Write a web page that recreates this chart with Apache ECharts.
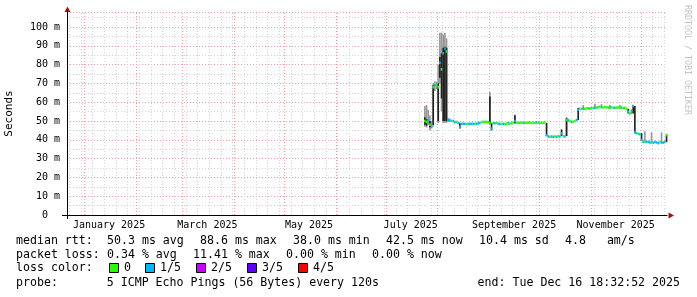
<!DOCTYPE html>
<html><head><meta charset="utf-8">
<script src="https://cdn.jsdelivr.net/npm/echarts@6/dist/echarts.min.js"></script>
<style>html,body{margin:0;padding:0;background:#fff}#c{width:697px;height:297px}</style>
</head><body><div id="c"></div>
<script>
// ---------------- data ----------------
const firstDay = '2025-07-24';            // one value per day from this date
const medianRtt = [
  50, 49.5, 50.5, 48, 47,
  68, 69, 69.5, 68, 81, 77.5, 86, 88.6, 87,
  50.5, 50.5, 50, 50, 49.5, 49.5, 49, 47, 48.5,
  48.5, 48.5, 48.3, 48.5, 48.4, 48.5, 48.5, 48.6, 48.5, 48.8, 49,
  49.5, 49.5, 49.6, 49.5, 49.4,
  49, 46,
  48.8, 48.8, 49, 48.6, 48.4, 48.4, 48.5, 48.4, 48.6, 48.8, 48.6, 48.8,
  49, 50, 49,
  49.1, 49, 49.2, 49, 49.1, 49, 49.2, 49.1, 49, 49.1, 49, 49.2, 49.1, 49, 49.1, 49, 49.2,
  42.5, 41.8, 41.5, 41.8, 41.6, 41.8, 41.6, 41.9, 41.7, 43.5, 42, 41.8,
  50.5, 50.5, 50, 49.5, 49.5, 50, 50.5,
  56,
  56.5, 56.5, 56.6, 56.5, 56.7, 56.8, 56.7, 56.9, 57, 57.1, 57.2,
  57.4, 57.6, 57.4, 57.2, 57.4, 57.3, 57.1, 57.2, 57.3, 57.1, 57, 57.1, 57.3, 57, 57.1, 56.9, 57,
  56.5, 55, 54, 55, 58, 44, 43.5, 43.2, 43,
  40,
  39, 39.2, 38.8, 39, 38.6, 38.8, 38.5, 38.8, 38.6, 38.2, 38.8, 38.6, 38.5, 38.8,
  42.5
];
// lost pings out of 5 (colour index of the median)
const lossFifths = [
  0,0,1,0,1,0,1,0,0,1,0,1,1,0,
  1,1,0,1,1,0,1,1,1,
  1,1,0,1,1,1,1,0,1,1,1,
  0,0,0,0,0,
  0,1,
  0,1,0,1,1,0,1,0,0,1,0,0,
  0,1,0,0,0,0,1,0,0,0,0,0,0,0,1,0,0,0,0,0,
  1,1,0,1,1,0,1,0,1,1,0,1,
  0,1,0,1,0,0,1,
  1,0,0,1,0,0,0,1,0,0,1,0,0,0,1,0,0,0,0,1,0,0,1,0,0,0,1,0,0,
  0,1,0,0,1,1,1,0,1,
  1,1,0,1,1,1,0,1,1,1,1,0,1,1,1,0
];
// dense smoke: [day, low, high] (ms)
const darkSmoke = [
  ['2025-07-24',48,52],['2025-07-25',47.5,51],['2025-07-27',46.5,50],
  ['2025-07-29',48,69],['2025-08-01',50,70],['2025-08-02',73,84],['2025-08-03',62,86],
  ['2025-08-04',50,89],['2025-08-05',50,89.5],['2025-08-06',50,89],
  ['2025-08-14',46,49],['2025-09-01',49,63],['2025-09-02',45,49],['2025-09-16',49,53],
  ['2025-10-05',42,49],['2025-10-14',42,45.5],['2025-10-17',42,51.5],['2025-10-24',50.5,57],
  ['2025-11-23',54,56.5],['2025-11-25',54,56],['2025-11-26',54,58.5],['2025-11-27',43.5,58],
  ['2025-12-01',39.5,43.5],['2025-12-16',38.8,43]
];
// light smoke: [day, low, high] (ms)
const lightSmoke = [
  ['2025-07-24',47,58],['2025-07-25',46.5,58.5],['2025-07-26',48,56],['2025-07-27',45,53],['2025-07-28',46,50],
  ['2025-07-29',47,70],['2025-07-30',66,71],['2025-07-31',67,71],
  ['2025-08-01',49,80],['2025-08-02',70,97],['2025-08-03',55,97],['2025-08-04',49,96],['2025-08-05',49,97],['2025-08-06',49,94],
  ['2025-08-07',49.5,51.5],['2025-08-08',49.5,51],
  ['2025-09-01',48,65.5],['2025-09-16',48.5,53.5],['2025-10-17',42,52],
  ['2025-10-27',56,58.5],['2025-11-03',56.5,59],['2025-11-07',57,59],['2025-11-12',56.5,58.5],['2025-11-18',56.5,58.5],
  ['2025-12-03',38.5,44.5],['2025-12-07',38,44],['2025-12-13',38,44]
];
const yTickValues = [0,10,20,30,40,50,60,70,80,90,100];
const yTickTexts = ['0  ','10 m','20 m','30 m','40 m','50 m','60 m','70 m','80 m','90 m','100 m'];
const monthLabels = [
  ['2025-01-16','January 2025'],['2025-03-16','March 2025'],['2025-05-16','May 2025'],
  ['2025-07-16','July 2025'],['2025-09-16','September 2025'],['2025-11-16','November 2025']
];
const monthStarts = ['2025-01-01','2025-02-01','2025-03-01','2025-04-01','2025-05-01','2025-06-01',
  '2025-07-01','2025-08-01','2025-09-01','2025-10-01','2025-11-01','2025-12-01'];
const lossColors = ['#26ff00','#00b8ff','#c800ff','#5e00ff','#ff0000'];
const lossNames = ['0','1/5','2/5','3/5','4/5'];
const rttHead = 'median rtt:';
const rttItems = ['50.3 ms avg', '88.6 ms max', '38.0 ms min', '42.5 ms now', '10.4 ms sd', '4.8   am/s'];
const lossHead = 'packet loss:';
const lossItems = ['0.34 % avg', '11.41 % max', '0.00 % min', '0.00 % now'];
const probeLine = 'probe:       5 ICMP Echo Pings (56 Bytes) every 120s';
const endLine = 'end: Tue Dec 16 18:32:52 2025';

// ---------------- build ----------------
const DAY = 86400000;
const toT = s => Date.parse(s + 'T00:00:00Z');
const t0 = toT(firstDay);
const X_MIN = Date.UTC(2024, 11, 21, 18, 32), X_MAX = Date.UTC(2025, 11, 16, 18, 32);
const Y_MAX = 108;
const medData = medianRtt.map((v, i) => [t0 + i * DAY, v, lossFifths[i]]);
const darkData = darkSmoke.map(d => [toT(d[0]), d[1], d[2]]);
const lightData = lightSmoke.map(d => [toT(d[0]), d[1], d[2]]);
const monthLineData = monthStarts.map(s => [toT(s), 0]);
const weekLineData = [];
for (let t = Date.UTC(2024, 11, 23); t < X_MAX; t += 7 * DAY) {
  const d = new Date(t);
  if (d.getUTCDate() !== 1) weekLineData.push([t, 0]);
}
const labelTimes = monthLabels.map(m => toT(m[0]));
const MONO = 'DejaVu Sans Mono';
const FONT = '11.6px "' + MONO + '"';
const CW = 7.0, GAP = 16;

function bandRender(color) {
  return function (params, api) {
    const t = api.value(0);
    const p1 = api.coord([t, api.value(2)]);
    const p2 = api.coord([t + DAY, api.value(1)]);
    return {type: 'rect', shape: {x: p1[0], y: p1[1], width: Math.max(p2[0] - p1[0], 1), height: Math.max(p2[1] - p1[1], 1)},
      style: {fill: color}};
  };
}
function vlineRender(color) {
  return function (params, api) {
    const t = api.value(0);
    const a = api.coord([t, 0]), b = api.coord([t, Y_MAX]);
    const x = Math.round(a[0]) + 0.5;
    return {type: 'line', shape: {x1: x, y1: a[1], x2: x, y2: b[1]},
      style: {stroke: color, lineWidth: 1, lineDash: [1, 2]}};
  };
}
function txt(x, y, s, align) {
  return {type: 'text', x: x, y: y, style: {text: s, font: FONT, fill: '#000', verticalAlign: 'middle', align: align || 'left'}};
}

const chart = echarts.init(document.getElementById('c'), null, {renderer: 'canvas'});
const graphics = [
  {type: 'line', shape: {x1: 62, y1: 215.5, x2: 67, y2: 215.5}, style: {stroke: '#000', lineWidth: 1}},
  {type: 'line', shape: {x1: 67.5, y1: 215, x2: 67.5, y2: 219}, style: {stroke: '#000', lineWidth: 1}},
  {type: 'polygon', shape: {points: [[67.5, 6.5], [64.5, 12], [70.5, 12]]}, style: {fill: '#a01010'}},
  {type: 'polygon', shape: {points: [[674, 215.5], [668.5, 212.5], [668.5, 218.5]]}, style: {fill: '#a01010'}},
  txt(16, 241, rttHead), txt(16, 255, lossHead), txt(16, 268, 'loss color:'),
  txt(16, 283, probeLine), txt(680, 283, endLine, 'right'),
  {type: 'text', x: 687, y: 5, rotation: -Math.PI / 2,
    style: {text: 'RRDTOOL / TOBI OETIKER', font: '8.3px "' + MONO + '"', fill: '#c4c4c4', verticalAlign: 'middle', align: 'left'}}
];
let px = 107;
rttItems.forEach(s => { graphics.push(txt(px, 241, s)); px += s.length * CW + GAP; });
px = 107;
lossItems.forEach(s => { graphics.push(txt(px, 255, s)); px += s.length * CW + GAP; });
const sqX = [109, 145, 196, 247, 298];
lossNames.forEach((n, i) => {
  graphics.push({type: 'rect', shape: {x: sqX[i] + 0.5, y: 263.5, width: 9, height: 9},
    style: {fill: lossColors[i], stroke: '#000', lineWidth: 1}});
  graphics.push(txt(sqX[i] + 15, 268, n));
});

chart.setOption({
  animation: false,
  backgroundColor: '#fff',
  grid: {left: 67, right: 30, top: 12, bottom: 82, containLabel: false, outerBoundsMode: 'none'},
  xAxis: {
    type: 'value', min: X_MIN, max: X_MAX, scale: true,
    axisLine: {show: true, onZero: false, lineStyle: {color: '#000', width: 1}},
    axisTick: {show: false},
    splitLine: {show: false},
    axisLabel: {
      customValues: labelTimes, hideOverlap: false,
      fontFamily: MONO, fontSize: 10, color: '#000', margin: 5,
      formatter: function (v) {
        let best = 0, bd = Infinity;
        labelTimes.forEach((t, i) => { const d = Math.abs(t - v); if (d < bd) { bd = d; best = i; } });
        return monthLabels[best][1];
      }
    }
  },
  yAxis: {
    type: 'value', min: 0, max: Y_MAX, interval: 10,
    name: 'Seconds', nameLocation: 'middle', nameGap: 52, nameRotate: 90,
    nameTextStyle: {fontFamily: MONO, fontSize: 11, color: '#000'},
    axisLine: {show: true, lineStyle: {color: '#000', width: 1}},
    axisTick: {show: false},
    axisLabel: {
      fontFamily: MONO, fontSize: 10, color: '#000', margin: 7, showMaxLabel: false,
      formatter: v => { const k = yTickValues.indexOf(v); return k < 0 ? '' : yTickTexts[k]; }
    },
    splitLine: {show: true, lineStyle: {color: '#eea0a0', width: 1, type: [1, 2]}},
    minorTick: {show: false, splitNumber: 2},
    minorSplitLine: {show: true, lineStyle: {color: '#d4d4d4', width: 1, type: [1, 2]}}
  },
  graphic: graphics,
  series: [
    {type: 'custom', name: 'weeks', silent: true, z: 1, data: weekLineData, encode: {x: 0, y: 1}, renderItem: vlineRender('#d4d4d4')},
    {type: 'custom', name: 'months', silent: true, z: 1, data: monthLineData, encode: {x: 0, y: 1}, renderItem: vlineRender('#eea0a0')},
    {type: 'custom', name: 'smoke light', silent: true, z: 2, data: lightData, encode: {x: 0, y: [1, 2]}, renderItem: bandRender('#999999')},
    {type: 'custom', name: 'smoke dark', silent: true, z: 3, data: darkData, encode: {x: 0, y: [1, 2]}, renderItem: bandRender('#222222')},
    {type: 'custom', name: 'median', silent: true, z: 4, data: medData, encode: {x: 0, y: 1},
      renderItem: function (params, api) {
        const t = api.value(0);
        const p1 = api.coord([t, api.value(1)]);
        const p2 = api.coord([t + DAY, api.value(1)]);
        return {type: 'rect', shape: {x: p1[0], y: p1[1] - 1.25, width: Math.max(p2[0] - p1[0], 1), height: 2.5},
          style: {fill: lossColors[api.value(2)]}};
      }}
  ]
});
</script></body></html>
